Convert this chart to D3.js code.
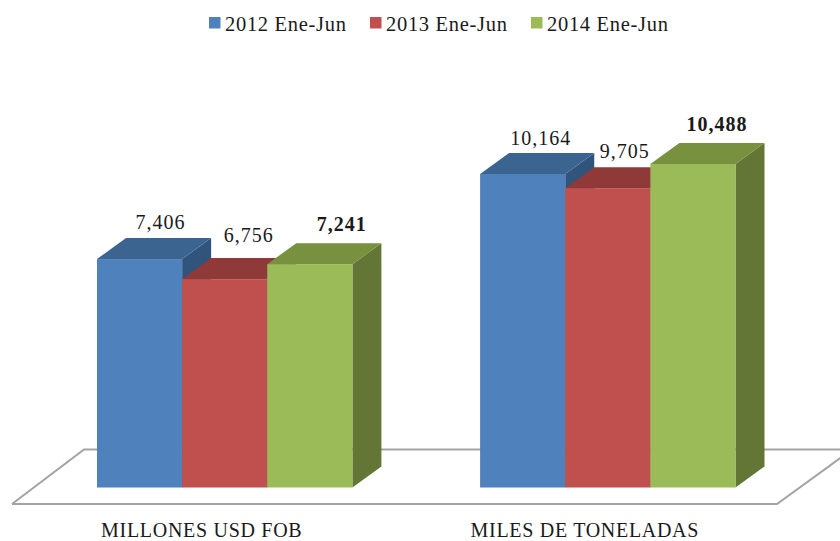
<!DOCTYPE html>
<html><head><meta charset="utf-8">
<script src="https://cdn.jsdelivr.net/npm/d3@7"></script>
<style>html,body{margin:0;padding:0;background:#fff;overflow:hidden}svg{display:block}text{font-family:"Liberation Serif",serif;fill:#1a1a1a}</style>
</head><body><svg id="c" width="840" height="541"></svg>
<script>
const categories = ["MILLONES USD FOB", "MILES DE TONELADAS"];
const seriesNames = ["2012 Ene-Jun", "2013 Ene-Jun", "2014 Ene-Jun"];
const values2012 = [7406, 10164];
const values2013 = [6756, 9705];
const values2014 = [7241, 10488];
const fronts = ["#4f81bd", "#c0504d", "#9bbb59"];
const tops = ["#3b6490", "#8f3a38", "#77913f"];
const sides = ["#31547c", "#772e2c", "#637635"];
const labelNudgeX = [[21, 24, 32], [18, 17, 24]];
const labelNudgeY = [[30, 37, 33], [29, 30, 33]];

const series = [values2012, values2013, values2014];
const depthX = 29, depthY = 21, baseY = 487.5;
const svg = d3.select("#c");
const x0 = d3.scaleBand().domain(categories).range([97, 735.5]).paddingInner(1/3).paddingOuter(0);
const x1 = d3.scaleBand().domain(seriesNames).range([0, x0.bandwidth()]);
const y = d3.scaleLinear().domain([0, 10488]).range([baseY, 164]);

svg.append("path")
  .attr("d", d3.line()([[12,504],[84,449.5],[852,449.5],[777,504],[12,504]]))
  .attr("fill", "#fff").attr("stroke", "#a3a3a3").attr("stroke-width", 2);

const poly = pts => d3.line()(pts) + "Z";
categories.forEach((cat, c) => {
  seriesNames.forEach((name, s) => {
    const l = x0(cat) + x1(name), r = l + x1.bandwidth(), t = y(series[s][c]);
    const g = svg.append("g");
    g.append("path").attr("fill", sides[s])
      .attr("d", poly([[r,t],[r+depthX,t-depthY],[r+depthX,baseY-depthY],[r,baseY]]));
    g.append("path").attr("fill", tops[s])
      .attr("d", poly([[l,t],[l+depthX,t-depthY],[r+depthX,t-depthY],[r,t]]));
    g.append("rect").attr("x", l).attr("y", t).attr("width", x1.bandwidth()).attr("height", baseY - t).attr("fill", fronts[s]);
  });
});

categories.forEach((cat, c) => {
  seriesNames.forEach((name, s) => {
    svg.append("text")
      .attr("x", x0(cat) + x1(name) + x1.bandwidth()/2 + labelNudgeX[c][s])
      .attr("y", y(series[s][c]) - labelNudgeY[c][s])
      .attr("text-anchor", "middle").attr("font-size", 20).attr("letter-spacing", 1)
      .attr("font-weight", s === 2 ? "bold" : "normal")
      .text(d3.format(",")(series[s][c]));
  });
});

const axis = svg.append("g").attr("transform", "translate(-23,521)")
  .call(d3.axisBottom(x0).tickSize(0).tickPadding(0));
axis.select(".domain").remove();
axis.selectAll("text").style("font-family", '"Liberation Serif",serif').style("font-size", "20px").style("letter-spacing", "0.7px").attr("fill", "#1a1a1a").attr("dy", "0.8em");

const legendX = [209, 370, 531];
seriesNames.forEach((name, s) => {
  svg.append("rect").attr("x", legendX[s]).attr("y", 17).attr("width", 11.5).attr("height", 11.5).attr("fill", fronts[s]);
  svg.append("text").attr("x", legendX[s] + 16).attr("y", 31).attr("font-size", 20.5).attr("letter-spacing", 0.7).text(name);
});
</script></body></html>
